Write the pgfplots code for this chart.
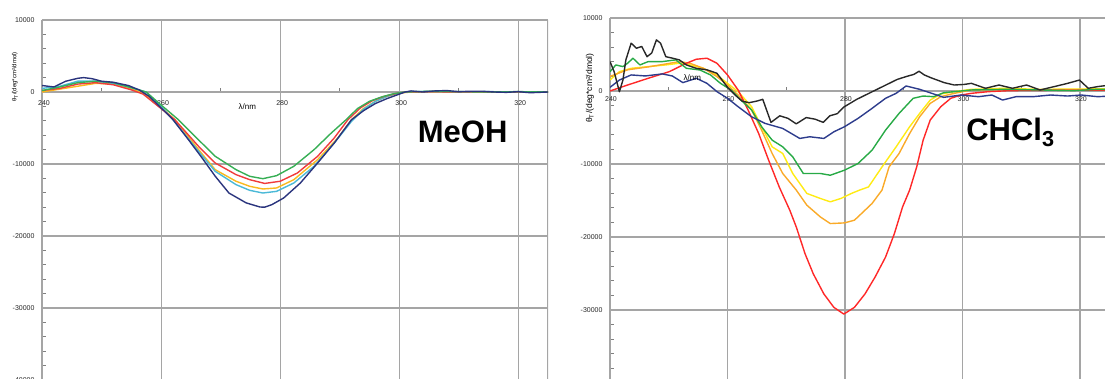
\documentclass[border=0pt]{standalone}
\usepackage{pgfplots}
\pgfplotsset{compat=1.18}
\usepackage{pgfplotstable}
\usepackage{fontspec}
\setmainfont{Liberation Sans}

% ---- MeOH spectra ----
\pgfplotstableread{
l t
240 900
242 700
244 1500
246 1900
247 2000
248.4 1850
250 1500
252 1350
254.5 900
256.3 300
258 -600
260 -2200
262 -3840
264.6 -6620
266.9 -9170
269.1 -11700
271.4 -14030
274.3 -15400
276.6 -15970
277.4 -16000
278.6 -15650
280.6 -14720
283.4 -12640
286.3 -9860
289.1 -7080
292 -3840
294 -2600
296 -1600
298 -900
300 -300
301 0
302 150
304 0
306 150
308 200
310 50
312 100
314 100
316 0
318 -50
320 50
322 -100
325 0
}\MnavyA
\pgfplotstableread{
l t
240 500
243 800
246 1500
249 1500
252 1200
255 600
257.5 0
260 -2000
262 -3840
266.3 -8240
269.1 -11020
272.6 -12870
274.9 -13660
277.1 -14030
279.4 -13800
282.3 -12640
285.7 -10320
289.1 -7080
292 -4070
294 -2400
296 -1300
298 -600
300 -100
302 50
306 100
310 0
315 50
320 0
325 0
}\McyanA
\pgfplotstableread{
l t
240 200
243 700
246 1300
249 1500
252 1300
255 600
257.5 0
260 -1800
262.9 -3840
265.7 -6160
269.1 -8930
272.6 -10790
274.9 -11710
277.1 -12040
279.4 -11620
282.3 -10320
285.7 -8010
288.6 -5690
291.1 -3840
293 -2300
295 -1300
297 -700
299 -250
301 0
305 100
310 50
315 0
320 50
325 0
}\MgreenA
\pgfplotstableread{
l t
240 200
243 500
246 1100
249 1300
252 1000
255 300
257 -300
260 -2300
262.3 -3840
266.3 -7550
269.1 -9860
272.6 -11480
274.9 -12180
277.4 -12700
280 -12400
282.9 -11250
286.3 -8930
289.1 -6380
291.4 -3840
293.5 -2200
295.5 -1200
297.5 -600
299.5 -200
301 0
305 50
310 0
320 0
325 0
}\MredA
\pgfplotstableread{
l t
240 0
243 400
246 800
249 1200
252 1100
255 400
257 -100
260 -2100
262.3 -3840
266.3 -8000
269.1 -10790
272.6 -12400
274.9 -13100
277.1 -13470
279.4 -13330
282.3 -12180
286.3 -9400
289.7 -6380
292 -3840
294 -2300
296 -1300
298 -600
300 -150
302 0
306 50
310 0
320 0
325 0
}\MgoldA

% ---- CHCl3 spectra ----
\pgfplotstableread{
l t
240 4030
240.7 2650
241.6 -100
242.2 1500
242.7 4260
243.6 6550
244.5 5860
245.4 6100
246.3 4700
247.1 5200
247.9 7000
248.6 6550
249.5 4700
250.6 4500
251.8 4260
253 3570
254.7 3100
256.5 2900
258.2 2430
260 500
261.5 -700
262.5 -1400
263.7 -1600
265.1 -1360
266 -1140
267.4 -4300
268.9 -3400
270.3 -3750
271.7 -4500
273.4 -3640
274.9 -3860
276.3 -4300
277.4 -3400
278.7 -3100
279.8 -2200
282 -1140
284.3 -230
286.6 680
288.9 1590
290.5 2000
291.7 2270
292.6 2700
293.5 2200
294.6 1820
296.9 1140
298.6 820
300.3 900
301.5 1050
303.9 370
306.2 820
308.5 370
310.9 820
313.2 140
315.6 600
317.9 1050
319.9 1500
321.4 370
323 600
325 800
}\Cblack
\pgfplotstableread{
l t
240 500
241.6 1500
243.6 2200
246 2060
248.9 2340
250.6 2060
252.4 1150
254.7 1740
256.5 1050
258.2 -90
260 -1000
261.8 -2150
264.1 -3530
266.4 -4440
269.4 -5130
272.3 -6500
274 -6270
276.4 -6500
278.1 -5590
279.9 -4900
282.2 -3760
284.6 -2380
286.9 -1000
288.7 -320
290.4 690
292.7 230
295.1 -410
296.8 -870
299.8 -550
302.7 -780
305 -550
306.8 -1240
309.1 -780
312 -780
315 -550
317.9 -690
320.2 -550
323 -780
325 -700
}\Cnavy
\pgfplotstableread{
l t
240 2650
241 3570
242.2 3340
243 3800
243.9 4490
245.1 3570
246.5 4030
248.9 4030
251.2 4260
253 3110
255.3 2880
257.1 2200
258.8 1050
260.6 140
262.3 -1240
264.1 -2600
265.8 -4900
267.6 -6730
269.4 -7650
271.1 -9020
272.9 -11300
275.8 -11300
277.5 -11540
279.9 -10850
282.2 -9940
284.6 -8110
286.9 -5360
289.2 -3070
291.6 -1000
293.3 -690
295.1 -780
296.8 -230
298.6 -90
301.5 140
307.4 230
313.2 140
319 50
323 230
325 200
}\Cgreen
\pgfplotstableread{
l t
240 1510
241.6 2650
243.6 3110
246.5 3340
249.5 3570
251.8 3800
253.6 3570
255.9 3110
258.2 2200
260 1050
261.8 -90
264.1 -2150
265.8 -4900
267.6 -7650
269.4 -8560
271.1 -11300
273.5 -14030
275.8 -14720
277.5 -15180
279.3 -14720
281.1 -14030
282.5 -13570
284 -13140
286.3 -10400
288.7 -7650
291 -4900
292.7 -3070
294.5 -1240
296.3 -410
298.6 -90
301.5 230
307 370
313 230
319 270
325 300
}\Cyellow
\pgfplotstableread{
l t
240 2000
243 2900
246.5 3300
249.5 3700
251.8 4030
253.6 3800
255.9 3110
258.2 1970
260 820
261.8 -550
264.1 -2600
265.8 -5360
267.6 -8560
269.4 -11300
271.7 -13570
273.5 -15640
275.8 -17250
277.5 -18160
279.9 -18070
281.6 -17700
282.8 -16790
284.6 -15410
286.3 -13570
287.5 -10400
289.2 -8560
291 -5820
292.7 -3530
294.5 -1700
296.3 -780
298.6 -320
301.5 140
307 200
313 150
319 200
325 200
}\Corange
\pgfplotstableread{
l t
240 0
243 820
246.5 1740
250.1 2650
253 3800
254.7 4350
256.5 4490
258.2 3800
260 2200
261.8 140
263.5 -2600
265.3 -5820
267 -9480
268.8 -13140
270.6 -16330
271.7 -18620
273.2 -22300
274.6 -25050
276.4 -27800
278.1 -29640
279.8 -30560
281.6 -29640
283.4 -27800
285.1 -25510
286.9 -22750
288.4 -19540
289.8 -15870
291 -13570
292.2 -10400
293.3 -6730
294.5 -3980
296.3 -2150
298 -1000
299.8 -550
301.5 -320
304.4 -90
308 50
315 100
320 100
325 100
}\Cred

\definecolor{mnavy}{RGB}{42,52,125}
\definecolor{mcyan}{RGB}{75,185,215}
\definecolor{mgreen}{RGB}{55,175,85}
\definecolor{mred}{RGB}{240,60,60}
\definecolor{mgold}{RGB}{250,185,30}
\definecolor{cblack}{RGB}{40,40,40}
\definecolor{cnavy}{RGB}{45,60,140}
\definecolor{cgreen}{RGB}{40,170,70}
\definecolor{cyellow}{RGB}{255,235,20}
\definecolor{corange}{RGB}{250,170,40}
\definecolor{cred}{RGB}{255,40,40}
\definecolor{gridgray}{RGB}{165,165,165}

\pgfplotsset{
  cdpanel/.style={
    scale only axis,
    xmin=240, xmax=325, ymin=-40000, ymax=10000,
    axis x line*=middle, axis y line*=left,
    hide obscured x ticks=false, hide obscured y ticks=false,
    xtick={240,260,...,320},
    ytick={-40000,-30000,...,10000},
    minor x tick num=1, minor y tick num=4,
    grid=major,
    major grid style={gridgray, line width=1.1pt},
    axis line style={gridgray, line width=1.1pt, -},
    major tick length=0pt,
    minor tick length=3.5pt,
    tick align=inside,
    minor tick style={gray, line width=0.6pt},
    scaled y ticks=false,
    /pgf/number format/assume math mode=true,
    /pgf/number format/1000 sep={},
    ticklabel style={font=\fontsize{7}{8}\selectfont, text=black!85},
    yticklabel style={xshift=-4pt},
    every axis plot/.append style={line width=1.4pt, line join=round},
    clip=true,
  },
}

\begin{document}
\begin{tikzpicture}[x=1pt,y=1pt]
\useasboundingbox (0,0) rectangle (1105,379);

% MeOH panel
\begin{axis}[cdpanel,
  at={(42pt,-1pt)}, anchor=south west,
  width=506pt, height=360pt,
  xticklabel style={yshift=-5pt, xshift=2pt},
  ylabel={θ\textsubscript{T}/(deg*cm²/dmol)},
  every axis y label/.style={at={(rel axis cs:0,0.842)}, xshift=-27pt, rotate=90, anchor=center, font=\fontsize{6}{7}\selectfont},
]
\draw[gridgray, line width=1.1pt] (rel axis cs:1,0) -- (rel axis cs:1,1);
\addplot[mgold] table {\MgoldA};
\addplot[mcyan] table {\McyanA};
\addplot[mred] table {\MredA};
\addplot[mgreen] table {\MgreenA};
\addplot[mnavy] table {\MnavyA};
\node[font=\fontsize{8}{9}\selectfont] at (axis cs:274.5,-2000) {λ/nm};
\node[anchor=base west, inner sep=0pt, font=\fontsize{31}{31}\selectfont\bfseries] at (axis cs:303.1,-7000) {MeOH};
\end{axis}

% CHCl3 panel
\begin{axis}[cdpanel,
  at={(610pt,-4pt)}, anchor=south west,
  width=499.4pt, height=365pt,
  xticklabel style={yshift=-2pt, xshift=1pt},
  ylabel={θ\textsubscript{T}/(deg*cm²/dmol)},
  every axis y label/.style={at={(rel axis cs:0,0.808)}, xshift=-20pt, rotate=90, anchor=center, font=\fontsize{8.5}{9}\selectfont},
]
\addplot[cyellow] table {\Cyellow};
\addplot[corange] table {\Corange};
\addplot[cred] table {\Cred};
\addplot[cgreen] table {\Cgreen};
\addplot[cnavy] table {\Cnavy};
\addplot[cblack] table {\Cblack};
\node[font=\fontsize{8}{9}\selectfont] at (axis cs:254,1800) {λ/nm};
\node[anchor=base west, inner sep=0pt, font=\fontsize{31}{31}\selectfont\bfseries] at (axis cs:300.6,-6750) {CHCl\textsubscript{3}};
\end{axis}
\end{tikzpicture}
\end{document}
